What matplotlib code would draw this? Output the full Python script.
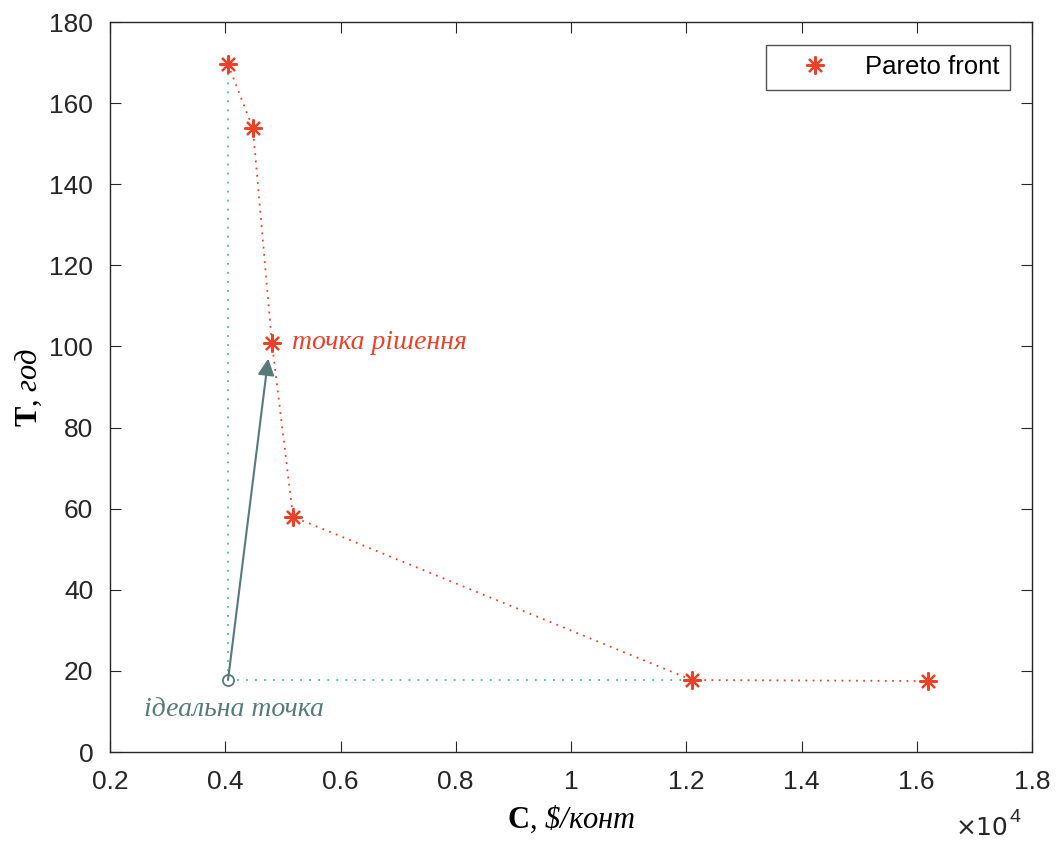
import matplotlib
matplotlib.use("Agg")
from matplotlib import pyplot as plt

# Pareto front (cost, time)
cost = [4048, 4480, 4811, 5176, 12100, 16195]
time = [169.6, 153.8, 100.8, 58.0, 17.75, 17.5]

ideal_c, ideal_t = 4048, 17.75
arrow_end = (4745, 97.0)

xticks = [2000, 4000, 6000, 8000, 10000, 12000, 14000, 16000, 18000]
xtick_labels = ['0.2', '0.4', '0.6', '0.8', '1', '1.2', '1.4', '1.6', '1.8']
yticks = [0, 20, 40, 60, 80, 100, 120, 140, 160, 180]

red = '#e8432a'
green = '#4cbf87'
teal = '#567a78'
dark = '#262626'

plt.rcParams['font.family'] = ['Liberation Sans', 'DejaVu Sans']
plt.rcParams['mathtext.fontset'] = 'custom'
plt.rcParams['mathtext.rm'] = 'Liberation Serif:italic'
plt.rcParams['mathtext.it'] = 'Liberation Serif:italic'
plt.rcParams['mathtext.bf'] = 'Liberation Serif:bold'

fig = plt.figure(figsize=(10.56, 8.42), dpi=100)
ax = fig.add_axes([110 / 1056, 1 - 752 / 842, 922 / 1056, 730 / 842])

dots = (0, (1, 4))

# guides from the ideal point
ax.plot([ideal_c, cost[0]], [ideal_t, time[0]], linestyle=dots, color=green, lw=1.3)
ax.plot([ideal_c, cost[4]], [ideal_t, time[4]], linestyle=dots, color=green, lw=1.3)

ax.plot(cost, time, linestyle=(0, (1, 3)), color=red, lw=1.3)
ax.plot(cost, time, linestyle='none', marker=(8, 2, 0), markersize=13,
        markeredgewidth=1.6, color=red, label='Pareto front')

ax.annotate('', xy=arrow_end, xytext=(ideal_c, ideal_t),
            arrowprops=dict(arrowstyle='-|>', color=teal, lw=1.5,
                            mutation_scale=25, shrinkA=0, shrinkB=0))
ax.plot([ideal_c], [ideal_t], 'o', mfc='white', mec=teal, markersize=8, mew=1.3)

ax.text(5160, 101.0, 'точка рішення', color=red, fontsize=20,
        family='Liberation Serif', style='italic', va='center', ha='left')
ax.text(4152, 10.6, 'ідеальна точка', color=teal, fontsize=20,
        family='Liberation Serif', style='italic', va='center', ha='center')

ax.set_xlim(2000, 18000)
ax.set_ylim(0, 180)
ax.set_xticks(xticks)
ax.set_xticklabels(xtick_labels)
ax.set_yticks(yticks)
ax.tick_params(direction='in', top=True, right=True, labelsize=19, length=8,
               colors=dark, labelcolor=dark)
ax.tick_params(axis='y', pad=12)
ax.tick_params(axis='x', pad=13)
for s in ax.spines.values():
    s.set_color(dark)
    s.set_linewidth(1.0)

ax.set_xlabel(r'$\mathbf{C}$, $\mathrm{\$/конт}$', fontsize=22, labelpad=7,
              family='Liberation Serif')
ax.set_ylabel(r'$\mathbf{T}$, $\mathrm{год}$', fontsize=22, labelpad=4,
              family='Liberation Serif')

fig.text(1008 / 1056, 1 - 828 / 842, '×10', fontsize=18, ha='right',
         va='center', color=dark, family=['DejaVu Sans'])
fig.text(1010 / 1056, 1 - 817 / 842, '4', fontsize=14, ha='left',
         va='center', color=dark)

leg = ax.legend(loc='upper right', fontsize=18.5, frameon=True, fancybox=False,
                edgecolor=dark, borderpad=0.4, handlelength=3, handletextpad=0.45,
                borderaxespad=0, bbox_to_anchor=(0.976, 0.9685))
leg.get_frame().set_linewidth(1.0)

fig.savefig('out.png', dpi=100)
